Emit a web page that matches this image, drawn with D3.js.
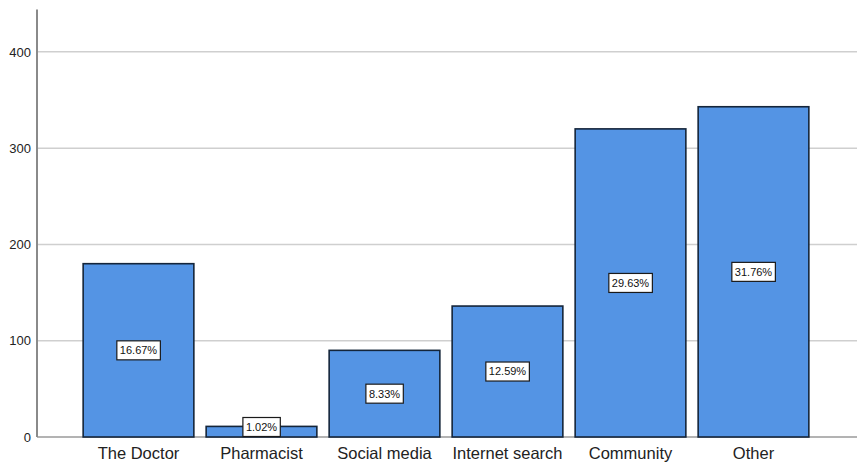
<!DOCTYPE html>
<html>
<head>
<meta charset="utf-8">
<script src="https://cdn.jsdelivr.net/npm/d3@7"></script>
<style>
  body { margin: 0; background: #fff; }
  svg { display: block; font-family: Arial, "Liberation Sans", sans-serif; }
</style>
</head>
<body>
<svg id="chart"></svg>
<script>
// Source counts (total 1080)
const categories = ['The Doctor', 'Pharmacist', 'Social media', 'Internet search', 'Community', 'Other'];
const counts = [180, 11, 90, 136, 320, 343];
const percentLabels = ['16.67%', '1.02%', '8.33%', '12.59%', '29.63%', '31.76%'];
const yTicks = [0, 100, 200, 300, 400];

const width = 857, height = 464;
const axisX = 37, baseY = 437, topY = 9.5;

const svg = d3.select('#chart')
    .attr('width', width)
    .attr('height', height);

const x = d3.scaleBand()
    .domain(categories)
    .range([77, 815])
    .paddingInner(0.1)
    .paddingOuter(0.05);

const y = d3.scaleLinear()
    .domain([0, 444])
    .range([baseY, topY]);

// Gridlines
svg.append('g')
    .selectAll('line')
    .data(yTicks.filter(d => d > 0))
    .enter().append('line')
    .attr('x1', axisX)
    .attr('x2', width)
    .attr('y1', d => y(d))
    .attr('y2', d => y(d))
    .attr('stroke', '#cfcfcf')
    .attr('stroke-width', 1.5);

// Baseline
svg.append('line')
    .attr('x1', axisX).attr('x2', width)
    .attr('y1', baseY).attr('y2', baseY)
    .attr('stroke', '#9a9a9a')
    .attr('stroke-width', 1.5);

// Bars
svg.append('g')
    .selectAll('rect')
    .data(categories)
    .enter().append('rect')
    .attr('x', d => x(d))
    .attr('width', x.bandwidth())
    .attr('y', (d, i) => y(counts[i]))
    .attr('height', (d, i) => y(0) - y(counts[i]))
    .attr('fill', '#5494e4')
    .attr('stroke', '#14253a')
    .attr('stroke-width', 1.6);

// Y axis
const yAxis = svg.append('g')
    .attr('transform', `translate(${axisX},0)`)
    .call(d3.axisLeft(y).tickValues(yTicks).tickSize(0).tickPadding(6));
yAxis.select('.domain').remove();
yAxis.selectAll('text')
    .style('font-size', '13px')
    .style('fill', '#222');
svg.append('line')
    .attr('x1', axisX).attr('x2', axisX)
    .attr('y1', topY).attr('y2', baseY)
    .attr('stroke', '#8a8a8a')
    .attr('stroke-width', 2);

// X axis labels
const xAxis = svg.append('g')
    .attr('transform', `translate(0,${baseY})`)
    .call(d3.axisBottom(x).tickSize(0).tickPadding(10));
xAxis.select('.domain').remove();
xAxis.selectAll('text')
    .style('font-size', '16.5px')
    .style('fill', '#222');

// Percentage boxes at the middle of each bar
const labels = svg.append('g')
    .selectAll('g')
    .data(categories)
    .enter().append('g')
    .attr('transform', (d, i) => {
        const cy = Math.min(y(counts[i] / 2), baseY - 10);
        return `translate(${x(d) + x.bandwidth() / 2},${cy})`;
    });

labels.append('text')
    .text((d, i) => percentLabels[i])
    .attr('text-anchor', 'middle')
    .attr('dy', '.36em')
    .style('font-size', '11px')
    .style('fill', '#111');

labels.each(function () {
    const g = d3.select(this);
    const bb = g.select('text').node().getBBox();
    g.insert('rect', 'text')
        .attr('x', bb.x - 3)
        .attr('y', -9.5)
        .attr('width', bb.width + 6)
        .attr('height', 19)
        .attr('fill', '#fff')
        .attr('stroke', '#1a1a1a')
        .attr('stroke-width', 1.2);
});
</script>
</body>
</html>
